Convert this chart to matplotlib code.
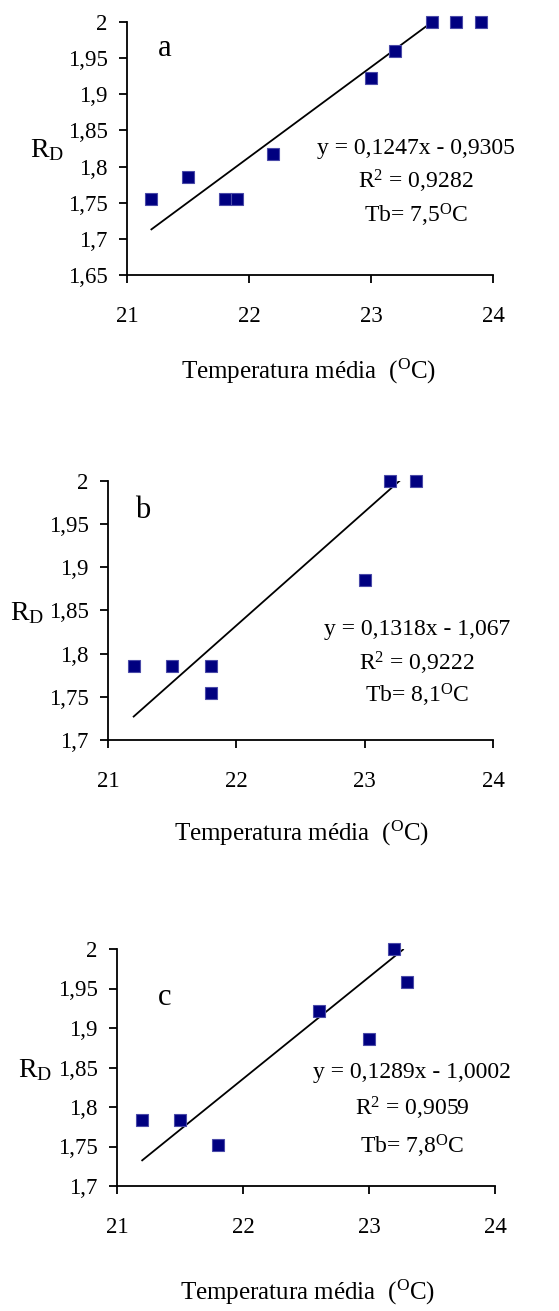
import numpy as np
import matplotlib
matplotlib.use("Agg")
import matplotlib.pyplot as plt

plt.rcParams['font.family'] = ['Liberation Serif', 'DejaVu Serif']
plt.rcParams['mathtext.fontset'] = 'custom'
plt.rcParams['mathtext.rm'] = 'Liberation Serif'
plt.rcParams['mathtext.it'] = 'Liberation Serif:italic'

# painel a
temp_a = [21.2, 21.5, 21.8, 21.9, 22.2, 23.0, 23.2, 23.5, 23.7, 23.9]
rd_a = [1.755, 1.786, 1.755, 1.755, 1.817, 1.922, 1.960, 2.0, 2.0, 2.0]
# painel b
temp_b = [21.2, 21.5, 21.8, 21.8, 23.0, 23.2, 23.4]
rd_b = [1.786, 1.786, 1.786, 1.755, 1.885, 2.0, 2.0]
# painel c
temp_c = [21.2, 21.5, 21.8, 22.6, 23.0, 23.2, 23.3]
rd_c = [1.783, 1.783, 1.752, 1.921, 1.886, 2.0, 1.958]

# regressões (coef. angular, intercepto) e intervalo da reta
coef_a = (0.1247, -0.9305)
coef_b = (0.1318, -1.067)
coef_c = (0.1289, -1.0002)
range_a = (21.2, 23.5)
range_b = (21.2, 23.28)
range_c = (21.2, 23.27)

eq_a = ['y = 0,1247x - 0,9305', 'R$^2$ = 0,9282', 'Tb= 7,5$^{\\mathrm{O}}$C']
eq_b = ['y = 0,1318x - 1,067', 'R$^2$ = 0,9222', 'Tb= 8,1$^{\\mathrm{O}}$C']
eq_c = ['y = 0,1289x - 1,0002', 'R$^2$ = 0,9059', 'Tb= 7,8$^{\\mathrm{O}}$C']

yticks_a = [1.65, 1.7, 1.75, 1.8, 1.85, 1.9, 1.95, 2.0]
yticks_bc = [1.7, 1.75, 1.8, 1.85, 1.9, 1.95, 2.0]
xticks = [21, 22, 23, 24]

W, H = 559, 1311
fig = plt.figure(figsize=(W / 100, H / 100), dpi=100)


def px_axes(left, top, right, bottom):
    return fig.add_axes([left / W, 1 - bottom / H, (right - left) / W, (bottom - top) / H])


def fmt(v):
    s = ('%.2f' % v).rstrip('0').rstrip('.')
    return s.replace('.', ',')


panels = [
    (px_axes(127, 22, 493, 275), temp_a, rd_a, coef_a, range_a, eq_a, yticks_a, 'a',
     (0.104, 0.897), (0.79, [0.50, 0.368, 0.237]), (-0.219, 0.494), (0.497, -0.383)),
    (px_axes(108, 481, 493, 740), temp_b, rd_b, coef_b, range_b, eq_b, yticks_bc, 'b',
     (0.09, 0.888), (0.803, [0.425, 0.297, 0.174]), (-0.21, 0.49), (0.504, -0.359)),
    (px_axes(117, 949, 495, 1186), temp_c, rd_c, coef_c, range_c, eq_c, yticks_bc, 'c',
     (0.127, 0.797), (0.78, [0.477, 0.329, 0.165]), (-0.217, 0.489), (0.503, -0.451)),
]

fs = 16.5
for ax, tx, ry, coef, xr, eq, yt, letra, lpos, epos, rpos, xlpos in panels:
    xl = np.array(xr)
    ax.plot(xl, coef[0] * xl + coef[1], color='black', lw=1.3, zorder=2)
    ax.plot(tx, ry, linestyle='none', marker='s', markersize=9,
            markerfacecolor='#000080', markeredgecolor='#4a4aa8', markeredgewidth=0.8,
            zorder=3, clip_on=False)
    ax.set_xlim(21, 24)
    ax.set_ylim(yt[0], yt[-1])
    ax.set_xticks(xticks)
    ax.set_xticklabels([str(t) for t in xticks])
    ax.set_yticks(yt)
    ax.set_yticklabels([fmt(v) for v in yt])
    ax.spines['top'].set_visible(False)
    ax.spines['right'].set_visible(False)
    ax.spines['left'].set_linewidth(1.3)
    ax.spines['bottom'].set_linewidth(1.3)
    ax.tick_params(axis='both', direction='out', length=6, width=1.3, labelsize=fs)
    ax.tick_params(axis='x', pad=16)
    ax.tick_params(axis='y', pad=8)

    ax.text(lpos[0], lpos[1], letra, transform=ax.transAxes, fontsize=22,
            ha='center', va='center')
    for linha, yy in zip(eq, epos[1]):
        ax.text(epos[0], yy, linha, transform=ax.transAxes, fontsize=17,
                ha='center', va='center')
    ax.text(rpos[0], rpos[1], 'R$_{\\mathrm{D}}$', transform=ax.transAxes,
            fontsize=20, ha='center', va='center')
    ax.text(xlpos[0], xlpos[1], 'Temperatura média  ($^{\\mathrm{O}}$C)',
            transform=ax.transAxes, fontsize=18, ha='center', va='center')

fig.savefig('out.png', dpi=100)
